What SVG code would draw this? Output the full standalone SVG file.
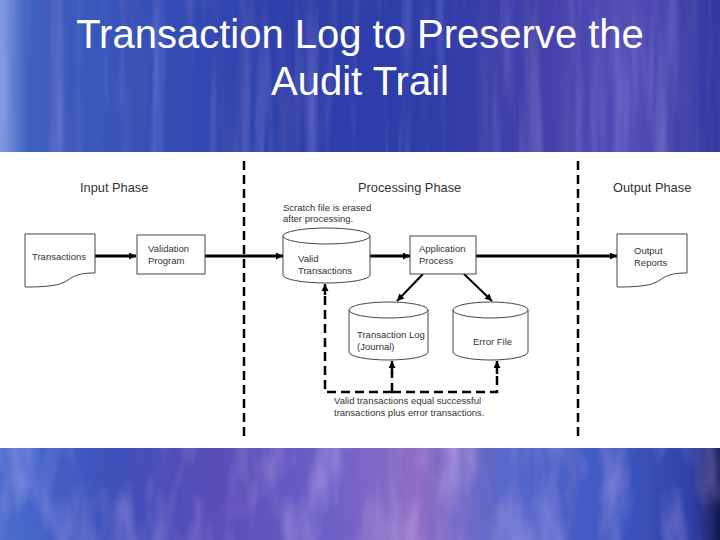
<svg xmlns="http://www.w3.org/2000/svg" width="720" height="540" viewBox="0 0 720 540">
<style>
.title{font-family:"Liberation Sans",Arial,sans-serif;font-size:40px;fill:#ffffff;text-anchor:middle}
.ph{font-family:"Liberation Sans",Arial,sans-serif;font-size:12.8px;fill:#333}
.t{font-family:"Liberation Sans",Arial,sans-serif;font-size:9.5px;fill:#333}
.shape{fill:#fff;stroke:#444;stroke-width:1}
.flow{fill:none;stroke:#000;stroke-width:3}
.dash{fill:none;stroke:#000;stroke-width:2.5;stroke-dasharray:9 5}
</style>
<defs>
<linearGradient id="bgTop" x1="0" y1="0" x2="1" y2="0">
<stop offset="0" stop-color="#7d9ade"/><stop offset="0.04" stop-color="#4060c0"/><stop offset="0.2" stop-color="#3550b8"/><stop offset="0.4" stop-color="#2e3eaa"/><stop offset="0.6" stop-color="#2e3ca8"/><stop offset="0.75" stop-color="#4540aa"/><stop offset="0.88" stop-color="#544cb6"/><stop offset="1" stop-color="#3238a0"/>
</linearGradient>
<linearGradient id="bgBot" x1="0" y1="0" x2="1" y2="0">
<stop offset="0" stop-color="#4a70d4"/><stop offset="0.15" stop-color="#3d50bc"/><stop offset="0.3" stop-color="#5a4cb8"/><stop offset="0.45" stop-color="#6a60c8"/><stop offset="0.58" stop-color="#9070c4"/><stop offset="0.7" stop-color="#5a68cc"/><stop offset="0.85" stop-color="#3d58c4"/><stop offset="0.96" stop-color="#3040a8"/><stop offset="1" stop-color="#141850"/>
</linearGradient>
<filter id="streakV" x="0" y="0" width="100%" height="100%">
<feTurbulence type="fractalNoise" baseFrequency="0.06 0.004" numOctaves="3" seed="4"/>
<feColorMatrix type="matrix" values="0 0 0 0 0.55  0 0 0 0 0.5  0 0 0 0 0.95  1.6 0 0 0 -0.8"/>
</filter>
<filter id="streakD" x="0" y="0" width="100%" height="100%">
<feTurbulence type="fractalNoise" baseFrequency="0.05 0.004" numOctaves="3" seed="9"/>
<feColorMatrix type="matrix" values="0 0 0 0 0.1  0 0 0 0 0.1  0 0 0 0 0.4  0 1.6 0 0 -0.75"/>
</filter>
<filter id="streakB" x="0" y="0" width="100%" height="100%">
<feTurbulence type="fractalNoise" baseFrequency="0.03 0.01" numOctaves="3" seed="7"/>
<feColorMatrix type="matrix" values="0 0 0 0 0.75  0 0 0 0 0.55  0 0 0 0 0.9  1.6 0 0 0 -0.7"/>
</filter>
<marker id="ah" viewBox="0 0 10 10" refX="10" refY="5" markerWidth="10" markerHeight="7" markerUnits="userSpaceOnUse" orient="auto">
<path d="M0,0 L10,5 L0,10 z" fill="#000"/>
</marker>
</defs>

<g id="background">
<rect x="0" y="0" width="720" height="153" fill="url(#bgTop)"/>
<rect x="0" y="0" width="720" height="153" filter="url(#streakV)" opacity="0.45"/>
<rect x="0" y="0" width="720" height="153" filter="url(#streakD)" opacity="0.7"/>
<rect x="0" y="447" width="720" height="93" fill="url(#bgBot)"/>
<rect x="0" y="447" width="720" height="93" filter="url(#streakB)" opacity="0.6"/>
<rect x="0" y="447" width="720" height="93" filter="url(#streakD)" opacity="0.5"/>
<rect x="0" y="152" width="720" height="296" fill="#fff"/>
</g>

<g id="title">
<text class="title" x="360" y="48">Transaction Log to Preserve the</text>
<text class="title" x="360" y="95">Audit Trail</text>
</g>

<g id="phases">
<line class="dash" x1="244" y1="161" x2="244" y2="437"/>
<line class="dash" x1="578" y1="161" x2="578" y2="437"/>
<text class="ph" x="80" y="192">Input Phase</text>
<text class="ph" x="358" y="192">Processing Phase</text>
<text class="ph" x="613" y="192">Output Phase</text>
</g>

<g id="connectors">
<line class="flow" x1="95" y1="256" x2="136" y2="256" marker-end="url(#ah)"/>
<line class="flow" x1="205" y1="256" x2="283" y2="256" marker-end="url(#ah)"/>
<line class="flow" x1="370" y1="256" x2="410" y2="256" marker-end="url(#ah)"/>
<line class="flow" x1="476" y1="256" x2="617" y2="256" marker-end="url(#ah)"/>
<line stroke="#000" stroke-width="2" x1="423" y1="274" x2="397" y2="301" marker-end="url(#ah)"/>
<line stroke="#000" stroke-width="2" x1="464" y1="274" x2="492" y2="301" marker-end="url(#ah)"/>
<path class="dash" d="M392,392 H325 V293"/>
<path class="dash" d="M392,392 H497 V372"/>
<path class="dash" d="M392,392 V372"/>
<line stroke="#000" stroke-width="2.5" x1="325" y1="295" x2="325" y2="284" marker-end="url(#ah)"/>
<line stroke="#000" stroke-width="2.5" x1="392" y1="374" x2="392" y2="361" marker-end="url(#ah)"/>
<line stroke="#000" stroke-width="2.5" x1="497" y1="374" x2="497" y2="361" marker-end="url(#ah)"/>
</g>

<g id="transactions">
<path class="shape" d="M25,234 H95 V273 C84,273 76,274 68,280 C60,286 45,287 25,287 Z"/>
<text class="t" x="32" y="260">Transactions</text>
</g>

<g id="validation">
<rect class="shape" x="137" y="235" width="68" height="39"/>
<text class="t" x="148" y="252">Validation</text>
<text class="t" x="148" y="264">Program</text>
</g>

<g id="valid-transactions">
<text class="t" x="283" y="211">Scratch file is erased</text>
<text class="t" x="283" y="222">after processing.</text>
<path class="shape" d="M283,236 V275 A43.5,8 0 0 0 370,275 V236"/>
<ellipse class="shape" cx="326.5" cy="236" rx="43.5" ry="8"/>
<text class="t" x="298" y="262">Valid</text>
<text class="t" x="298" y="274">Transactions</text>
</g>

<g id="application">
<rect class="shape" x="410" y="236" width="66" height="38"/>
<text class="t" x="419" y="252">Application</text>
<text class="t" x="419" y="264">Process</text>
</g>

<g id="output-reports">
<path class="shape" d="M617,234 H687 V273 C676,273 668,274 660,280 C652,286 637,287 617,287 Z"/>
<text class="t" x="634" y="254">Output</text>
<text class="t" x="634" y="266">Reports</text>
</g>

<g id="transaction-log">
<path class="shape" d="M349,310 V352 A39.5,8 0 0 0 428,352 V310"/>
<ellipse class="shape" cx="388.5" cy="310" rx="39.5" ry="8"/>
<text class="t" x="357" y="338">Transaction Log</text>
<text class="t" x="357" y="350">(Journal)</text>
</g>

<g id="error-file">
<path class="shape" d="M453,310 V352 A37.5,8 0 0 0 528,352 V310"/>
<ellipse class="shape" cx="490.5" cy="310" rx="37.5" ry="8"/>
<text class="t" x="473" y="345">Error File</text>
</g>

<g id="note">
<text class="t" x="334" y="404">Valid transactions equal successful</text>
<text class="t" x="334" y="416">transactions plus error transactions.</text>
</g>
</svg>
